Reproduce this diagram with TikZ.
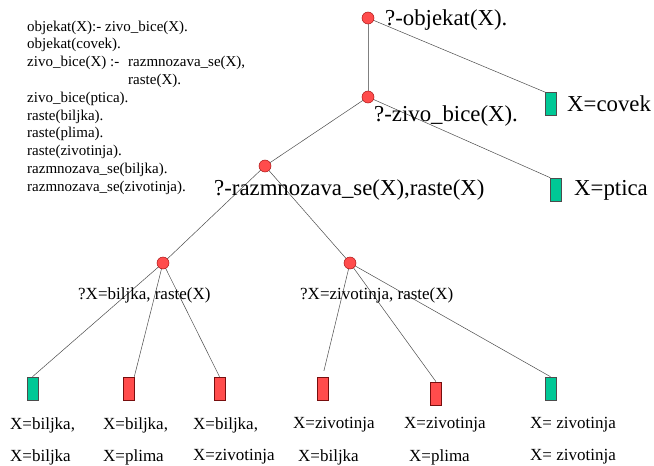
\documentclass[tikz,border=0pt]{standalone}
\usepackage{fontspec}
\setmainfont{Liberation Serif}
\usetikzlibrary{backgrounds}
\definecolor{goalred}{RGB}{255,76,76}
\definecolor{goaledge}{RGB}{170,20,20}
\definecolor{okgreen}{RGB}{0,200,150}
\begin{document}
\begin{tikzpicture}%
	[x=1pt, y=-1pt,
	edge/.style={color=black!70, line width=0.5pt},
	goal/.style={circle, inner sep=0pt, minimum size=12pt, fill=goalred, draw=goaledge, line width=0.5pt},
	fail/.style={rectangle, inner sep=0pt, minimum width=11pt, minimum height=23pt, fill=goalred, draw=goaledge!70!black, line width=0.6pt},
	success/.style={rectangle, inner sep=0pt, minimum width=11pt, minimum height=23pt, fill=okgreen, draw=black!70, line width=0.6pt},
	prog/.style={anchor=west, inner sep=0pt, font=\fontsize{15}{16}\selectfont},
	query/.style={anchor=west, inner sep=0pt, font=\fontsize{22.8}{24}\selectfont},
	subquery/.style={anchor=west, inner sep=0pt, font=\fontsize{17}{19}\selectfont},
	answer/.style={anchor=west, inner sep=0pt, font=\fontsize{17}{19}\selectfont}]
\useasboundingbox (0,0) rectangle (654,466);
%%
%% The program
%%
\node[prog] (p1) at (27, 27.5) {objekat(X):- zivo\_bice(X).};
\node[prog] (p2) at (27, 45.3) {objekat(covek).};
\node[prog] (p3) at (27, 63.1) {zivo\_bice(X) :-};
\node[prog] (p3b) at (128, 63.1) {razmnozava\_se(X),};
\node[prog] (p4) at (128, 80.9) {raste(X).};
\node[prog] (p5) at (27, 98.7) {zivo\_bice(ptica).};
\node[prog] (p6) at (27, 116.5) {raste(biljka).};
\node[prog] (p7) at (27, 134.3) {raste(plima).};
\node[prog] (p8) at (27, 152.1) {raste(zivotinja).};
\node[prog] (p9) at (27, 169.9) {razmnozava\_se(biljka).};
\node[prog] (p10) at (27, 187.7) {razmnozava\_se(zivotinja).};
%%
%% Goal nodes
%%
\node[goal] (g1) at (368, 18) {};
\node[goal] (g2) at (368, 97) {};
\node[goal] (g3) at (265, 166) {};
\node[goal] (g4) at (163, 263) {};
\node[goal] (g5) at (350, 263) {};
%%
%% Leaves
%%
\node[success] (covek) at (551, 104) {};
\node[success] (ptica) at (556, 189.5) {};
\node[success] (l1) at (32.5, 388.5) {};
\node[fail] (l2) at (128.5, 388.5) {};
\node[fail] (l3) at (219.5, 388.5) {};
\node[fail] (l4) at (322.5, 388.5) {};
\node[fail] (l5) at (436, 393.5) {};
\node[success] (l6) at (550.5, 388.5) {};
%%
%% Edges
%%
\begin{pgfonlayer}{background}
\draw[edge, color=black!50, line width=0.8pt] (g1.center) -- (g2.center);
\draw[edge] (g1.center) -- (covek.north west);
\draw[edge] (g2.center) -- (ptica.north west);
\draw[edge] (g2.center) -- (g3.center);
\draw[edge] (g3.center) -- (g4.center);
\draw[edge] (g3.center) -- (g5.center);
\draw[edge] (g4.center) -- (l1.north);
\draw[edge] (g4.center) -- (l2.north east);
\draw[edge] (g4.center) -- (l3.north);
\draw[edge, shorten >=6pt] (g5.center) -- (l4.north);
\draw[edge] (g5.center) -- (l5.north);
\draw[edge] (g5.center) -- (l6.north);
\end{pgfonlayer}
%%
%% Goal texts
%%
\node[query] (t1) at (385, 20) {?-objekat(X).};
\node[query] (t2) at (374, 116) {?-zivo\_bice(X).};
\node[query] (t3) at (214, 190) {?-razmnozava\_se(X),raste(X)};
\node[query] (tc) at (567, 104) {X=covek};
\node[query] (tp) at (574, 190) {X=ptica};
\node[subquery] (t4) at (78, 295) {?X=biljka, raste(X)};
\node[subquery] (t5) at (300, 295) {?X=zivotinja, raste(X)};
%%
%% Answers
%%
\node[answer] (a1) at (10, 425) {X=biljka,};
\node[answer] (b1) at (10, 457) {X=biljka};
\node[answer] (a2) at (103, 425) {X=biljka,};
\node[answer] (b2) at (103, 457) {X=plima};
\node[answer] (a3) at (193, 425) {X=biljka,};
\node[answer] (b3) at (193, 457) {X=zivotinja};
\node[answer] (a4) at (293, 425) {X=zivotinja};
\node[answer] (b4) at (298, 457) {X=biljka};
\node[answer] (a5) at (404, 425) {X=zivotinja};
\node[answer] (b5) at (409, 457) {X=plima};
\node[answer] (a6) at (530, 425) {X= zivotinja};
\node[answer] (b6) at (530, 457) {X= zivotinja};
%%
\end{tikzpicture}
\end{document}
